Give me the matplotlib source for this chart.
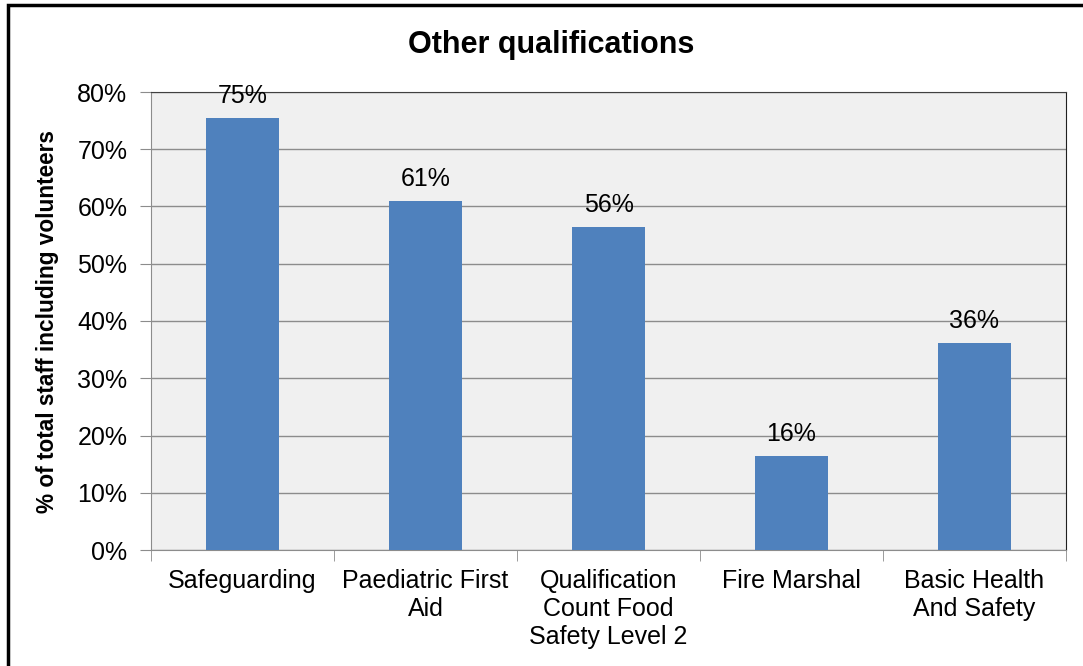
import matplotlib.pyplot as plt
from matplotlib.patches import Rectangle
from matplotlib.ticker import FuncFormatter

# Datos
categories = ["Safeguarding", "Paediatric First\nAid", "Qualification\nCount Food\nSafety Level 2",
              "Fire Marshal", "Basic Health\nAnd Safety"]
values = [75.4, 60.9, 56.4, 16.4, 36.1]
labels = ["75%", "61%", "56%", "16%", "36%"]
yticks = [0, 10, 20, 30, 40, 50, 60, 70, 80]

plt.rcParams['font.family'] = ['Liberation Sans', 'DejaVu Sans']

fig = plt.figure(figsize=(10.83, 6.66), dpi=100)
ax = fig.add_axes([151 / 1083, 116 / 666, 915 / 1083, 458 / 666])

# marco exterior
top = 1 - 5.5 / 666
fig.patches.append(Rectangle((7.5 / 1083, -0.05), 1.1, top + 0.05,
                             transform=fig.transFigure, fill=False, edgecolor='black',
                             linewidth=2.5, zorder=10))

ax.set_facecolor('#f0f0f0')
x = range(len(categories))
ax.bar(x, values, width=0.4, color='#4f81bd', zorder=3)
for i, v in enumerate(values):
    ax.text(i, v + 1.8, labels[i], ha='center', va='bottom', fontsize=18, zorder=4)

ax.set_xlim(-0.5, len(categories) - 0.5)
ax.set_ylim(0, 80)
ax.set_yticks(yticks)
ax.yaxis.set_major_formatter(FuncFormatter(lambda v, p: "{:.0f}%".format(v)))
ax.yaxis.grid(True, color='#8c8c8c', linewidth=1, zorder=1)

ax.set_xticks(list(x))
ax.set_xticklabels(categories, fontsize=18, linespacing=1.2)
ax.set_xticks([i + 0.5 for i in range(-1, len(categories))], minor=True)
ax.tick_params(axis='x', which='major', length=0, pad=14)
ax.tick_params(axis='x', which='minor', length=8, color='#8c8c8c')
ax.tick_params(axis='y', length=8, color='#8c8c8c', labelsize=18, pad=9)

ax.spines['left'].set_color('#8c8c8c')
ax.spines['bottom'].set_color('#8c8c8c')
ax.spines['top'].set_color('#404040')
ax.spines['right'].set_color('#202020')

fig.text(48 / 1083, 1 - 321.5 / 666, '% of total staff including volunteers', fontsize=16.3,
         fontweight='bold', rotation=90, ha='center', va='center')
fig.text(551 / 1083, 1 - 45 / 666, 'Other qualifications', fontsize=22, fontweight='bold',
         ha='center', va='center')

plt.savefig('out.png', dpi=100)
